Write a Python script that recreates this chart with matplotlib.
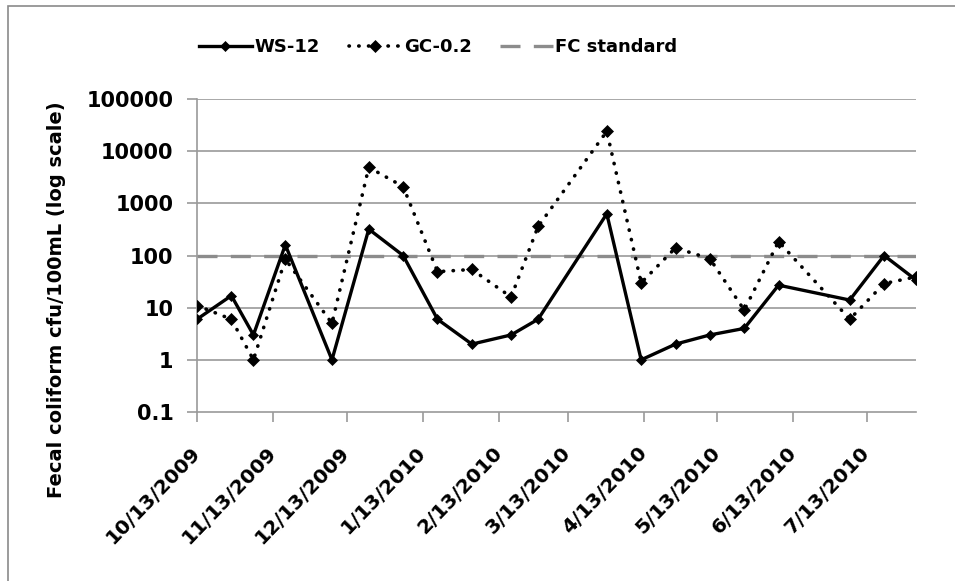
import matplotlib
matplotlib.use("Agg")
import matplotlib.pyplot as plt
import matplotlib.patches as mpatches
from datetime import datetime

# ---- data ----
dates = ["2009-10-13", "2009-10-27", "2009-11-05", "2009-11-18", "2009-12-07",
         "2009-12-22", "2010-01-05", "2010-01-19", "2010-02-02", "2010-02-18",
         "2010-03-01", "2010-03-29", "2010-04-12", "2010-04-26", "2010-05-10",
         "2010-05-24", "2010-06-07", "2010-07-06", "2010-07-20", "2010-08-02"]
ws12 = [6, 17, 3, 160, 1, 320, 100, 6, 2, 3, 6, 630, 1, 2, 3, 4, 27, 14, 100, 34]
gc02 = [11, 6, 1, 85, 5, 4900, 2100, 49, 54, 16, 360, 24000, 30, 140, 87, 9, 185, 6, 29, 39]
fc_standard = 100
tick_dates = ["2009-10-13", "2009-11-13", "2009-12-13", "2010-01-13", "2010-02-13",
              "2010-03-13", "2010-04-13", "2010-05-13", "2010-06-13", "2010-07-13"]
tick_labels = ["10/13/2009", "11/13/2009", "12/13/2009", "1/13/2010", "2/13/2010",
               "3/13/2010", "4/13/2010", "5/13/2010", "6/13/2010", "7/13/2010"]
y_ticks = [0.1, 1, 10, 100, 1000, 10000, 100000]
y_tick_labels = ["0.1", "1", "10", "100", "1000", "10000", "100000"]

x = [datetime.strptime(d, "%Y-%m-%d") for d in dates]
xt = [datetime.strptime(d, "%Y-%m-%d") for d in tick_dates]

plt.rcParams['font.family'] = ['DejaVu Sans']

W, H = 955, 581
fig = plt.figure(figsize=(W / 100, H / 100), dpi=100)
fig.patch.set_facecolor("white")

# outer border
fig.patches.append(mpatches.Rectangle((7.5 / W, -0.01), 1.2, 1 - 6.5 / H + 0.01,
                                      transform=fig.transFigure, fill=False,
                                      edgecolor="#8a8a8a", linewidth=1.2))

L, R, T, B = 197, 916, 99, 412
ax = fig.add_axes([L / W, 1 - B / H, (R - L) / W, (B - T) / H])

grid_c = "#9a9a9a"
ax.set_yscale("log")
ax.set_ylim(0.1, 100000)
ax.set_xlim(x[0], x[-1])

for yv in y_ticks[1:]:
    ax.axhline(yv, color=grid_c, lw=1.2, zorder=1)

ax.plot(x, [fc_standard] * len(x), color="#8c8c8c", lw=2.4,
        linestyle=(0, (6, 4)), zorder=2, label="FC standard")
ax.plot(x, gc02, color="black", lw=2.6, linestyle=(0, (0.1, 2.6)),
        dash_capstyle="round", marker="D", markersize=6, markeredgewidth=0.5,
        zorder=3, label="GC-0.2")
ax.plot(x, ws12, color="black", lw=2.4, linestyle="-", marker="D",
        markersize=5, markeredgewidth=0.5, zorder=4, label="WS-12")

for s in ["top", "right"]:
    ax.spines[s].set_visible(False)
for s in ["left", "bottom"]:
    ax.spines[s].set_color(grid_c)
    ax.spines[s].set_linewidth(1.2)

ax.set_yticks(y_ticks)
ax.set_yticklabels(y_tick_labels, fontsize=15, fontweight="bold")
ax.yaxis.set_minor_locator(matplotlib.ticker.NullLocator())
ax.tick_params(axis="y", length=7, width=1.2, color=grid_c, pad=10)

ax.set_xticks(xt)
ax.set_xticklabels(tick_labels, fontsize=14.5, fontweight="bold", rotation=46,
                   ha="right", va="center", rotation_mode="anchor")
ax.tick_params(axis="x", length=7, width=1.2, color=grid_c, pad=20)

ax.set_ylabel("Fecal coliform cfu/100mL (log scale)", fontsize=14,
              fontweight="bold")
ax.yaxis.set_label_coords(-(L - 66) / (R - L), (B - 300) / (B - T))

handles, labels = ax.get_legend_handles_labels()
order = [2, 1, 0]
leg = fig.legend([handles[i] for i in order], [labels[i] for i in order],
                 loc="center left", bbox_to_anchor=(192 / W, 1 - 47 / H),
                 ncol=3, frameon=False, prop={"size": 13, "weight": "bold"},
                 handlelength=2.9, handletextpad=0.15, columnspacing=1.6,
                 borderaxespad=0)

fig.savefig("out.png", dpi=100, facecolor="white")
